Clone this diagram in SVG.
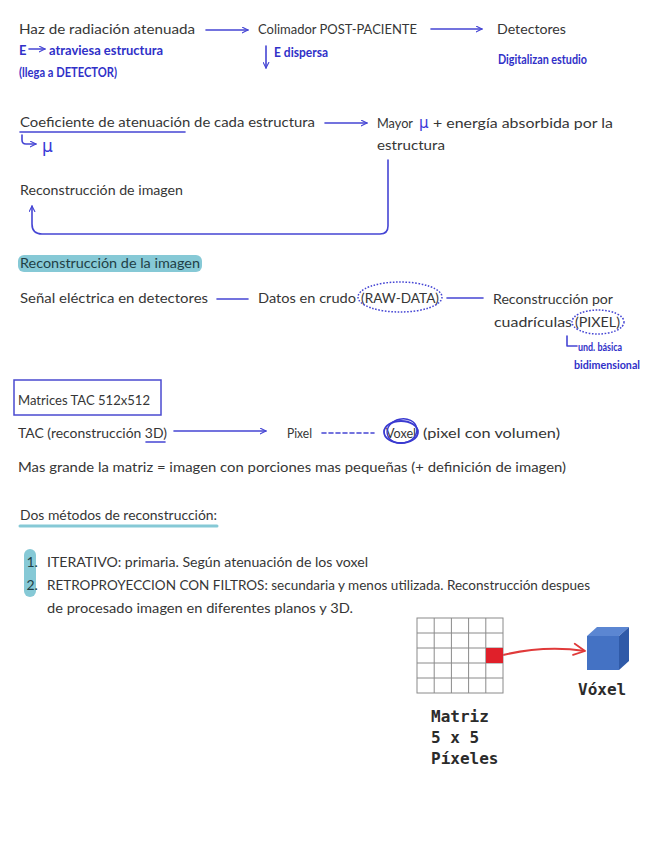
<svg xmlns="http://www.w3.org/2000/svg" width="656" height="848" viewBox="0 0 656 848">
<style>
  .t { font-family: "Lato", "Liberation Sans", sans-serif; font-size: 14px; fill: #363636; }
  .b { font-family: "Lato", "Liberation Sans", sans-serif; font-size: 12px; font-weight: 700; fill: #3030c8; }
  .mu { font-family: "DejaVu Sans", sans-serif; font-size: 15px; fill: #3a3ad8; }
  .mono { font-family: "DejaVu Sans Mono", "Liberation Mono", monospace; font-size: 16px; font-weight: 700; fill: #2b2b2b; }
  .ln { fill: none; stroke: #4545d4; stroke-width: 1.6; stroke-linecap: round; stroke-linejoin: round; }
  .dot { fill: none; stroke: #4545d4; stroke-width: 1.5; stroke-dasharray: 1.6 1.6; }
  .grid { fill: none; stroke: #8a8a8a; stroke-width: 1; }
</style>
<defs>
  <marker id="ah" viewBox="0 0 10 10" refX="9" refY="5" markerWidth="7" markerHeight="7" orient="auto" markerUnits="userSpaceOnUse">
    <path d="M1 1 L9 5 L1 9" fill="none" stroke="#4545d4" stroke-width="1.6" stroke-linecap="round" stroke-linejoin="round"/>
  </marker>
  <marker id="ahr" viewBox="0 0 10 10" refX="9" refY="5" markerWidth="14" markerHeight="14" orient="auto" markerUnits="userSpaceOnUse">
    <path d="M1 1 L9 5 L1 9" fill="none" stroke="#e03a3a" stroke-width="1.3" stroke-linecap="round" stroke-linejoin="round"/>
  </marker>
</defs>
<rect width="656" height="848" fill="#ffffff"/>

<g id="connectors">
  <line class="ln" x1="206" y1="30" x2="248" y2="30" marker-end="url(#ah)"/>
  <line class="ln" x1="431" y1="29" x2="482" y2="29" marker-end="url(#ah)"/>
  <line class="ln" x1="266" y1="46" x2="266" y2="68" marker-end="url(#ah)"/>
  <line class="ln" x1="325" y1="123" x2="367" y2="123" marker-end="url(#ah)"/>
  <path class="ln" d="M388 160 L388 226 Q388 234 380 234 L42 234 Q32 234 32 224 L32 206" marker-end="url(#ah)"/>
  <line class="ln" x1="217" y1="299" x2="248" y2="299"/>
  <line class="ln" x1="447" y1="298" x2="483" y2="298"/>
  <line class="ln" x1="174" y1="431" x2="266" y2="431" marker-end="url(#ah)"/>
  <line class="ln" x1="322" y1="433" x2="374" y2="433" stroke-dasharray="4 3"/>
  <path d="M503 655 Q545 645 585 651" fill="none" stroke="#e03a3a" stroke-width="2" marker-end="url(#ahr)"/>
</g>

<g id="haz">
  <text class="t" x="19" y="34" textLength="176" lengthAdjust="spacingAndGlyphs">Haz de radiación atenuada</text>
  <text class="b" x="19" y="55" style="font-size:13px">E</text>
  <line class="ln" x1="29" y1="49" x2="45" y2="49" marker-end="url(#ah)" stroke-width="1.3"/>
  <text class="b" x="49" y="55" textLength="114" lengthAdjust="spacingAndGlyphs" style="font-size:13px">atraviesa estructura</text>
  <text class="b" x="19" y="77" textLength="98" lengthAdjust="spacingAndGlyphs" style="font-size:13px">(llega a DETECTOR)</text>
</g>
<g id="colimador">
  <text class="t" x="258" y="34" textLength="159" lengthAdjust="spacingAndGlyphs">Colimador POST-PACIENTE</text>
  <text class="b" x="274" y="57" textLength="54" lengthAdjust="spacingAndGlyphs" style="font-size:13px">E dispersa</text>
</g>
<g id="detectores">
  <text class="t" x="497" y="34" textLength="69" lengthAdjust="spacingAndGlyphs">Detectores</text>
  <text class="b" x="498" y="64" textLength="89" lengthAdjust="spacingAndGlyphs" style="font-size:13px">Digitalizan estudio</text>
</g>

<g id="coeficiente">
  <text class="t" x="20" y="127" textLength="295" lengthAdjust="spacingAndGlyphs">Coeficiente de atenuación de cada estructura</text>
  <line class="ln" x1="20" y1="132" x2="185" y2="132" stroke-width="1.3"/>
  <path class="ln" d="M22 135 L22 140 Q22 144 26 144 L36 144" stroke-width="1.3" marker-end="url(#ah)"/>
  <text class="mu" x="42" y="152" style="font-size:17px">μ</text>
</g>
<g id="mayor">
  <text class="t" x="377" y="128" textLength="36" lengthAdjust="spacingAndGlyphs">Mayor</text>
  <text class="mu" x="419" y="128">μ</text>
  <text class="t" x="433" y="128" textLength="180" lengthAdjust="spacingAndGlyphs">+ energía absorbida por la</text>
  <text class="t" x="377" y="150" textLength="68" lengthAdjust="spacingAndGlyphs">estructura</text>
</g>
<g id="reconstruccion-imagen">
  <text class="t" x="20" y="195" textLength="163" lengthAdjust="spacingAndGlyphs">Reconstrucción de imagen</text>
</g>

<g id="titulo-reconstruccion">
  <rect x="18" y="255" width="184" height="17" rx="6" fill="#86c9d6"/>
  <text class="t" x="20" y="268" textLength="180" lengthAdjust="spacingAndGlyphs" style="fill:#1f3f46">Reconstrucción de la imagen</text>
</g>
<g id="senal">
  <text class="t" x="20" y="303" textLength="188" lengthAdjust="spacingAndGlyphs">Señal eléctrica en detectores</text>
</g>
<g id="datos">
  <text class="t" x="258" y="303" textLength="98" lengthAdjust="spacingAndGlyphs">Datos en crudo</text>
  <text class="t" x="361" y="303" textLength="78" lengthAdjust="spacingAndGlyphs">(RAW-DATA)</text>
  <ellipse class="dot" cx="400" cy="297" rx="42" ry="15"/>
</g>
<g id="cuadriculas">
  <text class="t" x="493" y="304" textLength="120" lengthAdjust="spacingAndGlyphs">Reconstrucción por</text>
  <text class="t" x="494" y="327" textLength="78" lengthAdjust="spacingAndGlyphs">cuadrículas</text>
  <text class="t" x="575" y="327" textLength="45" lengthAdjust="spacingAndGlyphs">(PIXEL)</text>
  <ellipse class="dot" cx="598" cy="322" rx="26" ry="12"/>
  <path class="ln" d="M567 336 L567 346 L577 346" stroke-width="1.3"/>
  <text class="b" x="578" y="351" textLength="44" lengthAdjust="spacingAndGlyphs">und. básica</text>
  <text class="b" x="574" y="369" textLength="66" lengthAdjust="spacingAndGlyphs">bidimensional</text>
</g>

<g id="matrices">
  <rect x="14" y="380" width="147" height="35" fill="none" stroke="#4a4ad0" stroke-width="1.5"/>
  <text class="t" x="18" y="405" textLength="132" lengthAdjust="spacingAndGlyphs">Matrices TAC 512x512</text>
</g>
<g id="tac">
  <text class="t" x="18" y="438" textLength="149" lengthAdjust="spacingAndGlyphs">TAC (reconstrucción 3D)</text>
  <line class="ln" x1="146" y1="442" x2="165" y2="442" stroke-width="1.3"/>
</g>
<g id="pixel">
  <text class="t" x="287" y="438" textLength="25" lengthAdjust="spacingAndGlyphs">Pixel</text>
</g>
<g id="voxel">
  <text class="t" x="386" y="438" textLength="30" lengthAdjust="spacingAndGlyphs">Voxel</text>
  <ellipse cx="401" cy="432" rx="17" ry="11" fill="none" stroke="#3a3ad0" stroke-width="1.8"/>
  <ellipse cx="402" cy="431" rx="15" ry="12" fill="none" stroke="#3a3ad0" stroke-width="1.4" transform="rotate(-12 402 431)"/>
  <text class="t" x="423" y="438" textLength="137" lengthAdjust="spacingAndGlyphs">(pixel con volumen)</text>
</g>
<g id="mas-grande">
  <text class="t" x="18" y="472" textLength="548" lengthAdjust="spacingAndGlyphs">Mas grande la matriz = imagen con porciones mas pequeñas (+ definición de imagen)</text>
</g>

<g id="dos-metodos">
  <text class="t" x="20" y="520" textLength="197" lengthAdjust="spacingAndGlyphs">Dos métodos de reconstrucción:</text>
  <line x1="20" y1="526" x2="217" y2="526" stroke="#86c9d6" stroke-width="3" stroke-linecap="round"/>
</g>
<g id="metodo-lista">
  <rect x="24" y="549" width="12" height="48" rx="6" fill="#86c9d6"/>
  <text class="t" x="26.5" y="567" style="fill:#1f3f46">1.</text>
  <text class="t" x="26.5" y="590" style="fill:#1f3f46">2.</text>
  <text class="t" x="47" y="567" textLength="321" lengthAdjust="spacingAndGlyphs">ITERATIVO: primaria. Según atenuación de los voxel</text>
  <text class="t" x="47" y="590" textLength="543" lengthAdjust="spacingAndGlyphs">RETROPROYECCION CON FILTROS: secundaria y menos utilizada. Reconstrucción despues</text>
  <text class="t" x="47" y="613" textLength="306" lengthAdjust="spacingAndGlyphs">de procesado imagen en diferentes planos y 3D.</text>
</g>

<g id="matriz-grid">
  <rect x="417" y="618" width="86" height="75" class="grid"/>
  <path class="grid" d="M434.2 618 V693 M451.4 618 V693 M468.6 618 V693 M485.8 618 V693 M417 633 H503 M417 648 H503 M417 663 H503 M417 678 H503"/>
  <rect x="486" y="648" width="17" height="15" fill="#e0202a"/>
  <text class="mono" x="431" y="722">Matriz</text>
  <text class="mono" x="431" y="743">5 x 5</text>
  <text class="mono" x="431" y="764">Píxeles</text>
</g>
<g id="voxel-cubo">
  <polygon points="587,636 597,627 629,627 619,636" fill="#5b86d2"/>
  <polygon points="619,636 629,627 629,661 619,670" fill="#2f5aa8"/>
  <rect x="587" y="636" width="32" height="34" fill="#4472c4"/>
  <text class="mono" x="578" y="695">Vóxel</text>
</g>
</svg>
